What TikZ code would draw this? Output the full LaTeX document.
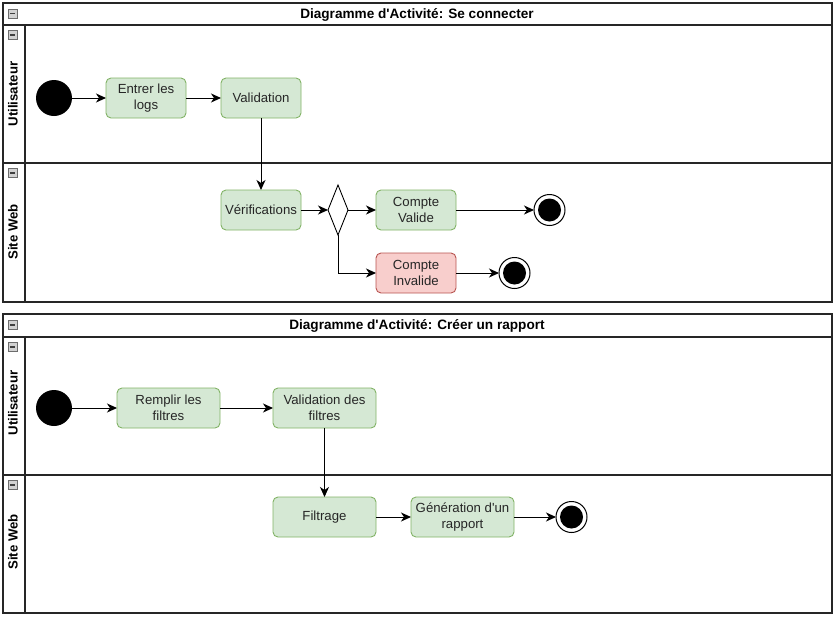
\documentclass[tikz,border=0pt]{standalone}
\usepackage{fontspec}
\setmainfont{Liberation Sans}
\usetikzlibrary{arrows.meta,positioning,shapes.geometric}
\definecolor{ActFill}{HTML}{D5E8D4}
\definecolor{ActLine}{HTML}{82B366}
\definecolor{ErrFill}{HTML}{F8CECC}
\definecolor{ErrLine}{HTML}{B85450}
\definecolor{FoldGrey}{HTML}{9A9A9A}

\begin{document}
\begin{tikzpicture}[x=1pt,y=-1pt,
    every node/.style={outer sep=0pt},
    lane/.style={draw=black!85,line width=1.2pt},
    title/.style={font=\fontsize{13.6}{15}\selectfont\bfseries},
    who/.style={rotate=90,font=\fontsize{13.2}{15}\selectfont\bfseries},
    fold/.style={draw=FoldGrey!70!black,fill=FoldGrey!45,minimum size=9pt,inner sep=0pt,
      path picture={\draw[black!75,line width=1.2pt]
        ([xshift=1.8pt]path picture bounding box.west) -- ([xshift=-1.8pt]path picture bounding box.east);}},
    act/.style={draw=ActLine,fill=ActFill,line width=0.9pt,rounded corners=5pt,
      minimum width=80pt,minimum height=40pt,inner sep=1pt,align=center,
      text=black!85,font=\fontsize{13.2}{16}\selectfont},
    wideact/.style={act,minimum width=103pt},
    fail/.style={act,draw=ErrLine,fill=ErrFill},
    start/.style={circle,fill=black,minimum size=36pt,inner sep=0pt},
    stop/.style={circle,draw=black,line width=1pt,fill=white,minimum size=31pt,inner sep=0pt,
      path picture={\fill[black] (path picture bounding box.center) circle (11.5pt);}},
    choice/.style={diamond,draw=black,line width=0.9pt,fill=white,minimum width=20pt,
      minimum height=50pt,aspect=0.4,inner sep=0pt},
    flow/.style={draw=black,line width=1pt,-{Stealth[length=10pt,width=9pt,inset=3pt]}}
  ]
  \useasboundingbox (0,0) rectangle (834,616);

  % Se connecter
  \draw[lane] (3,3) rectangle (832,302);
  \draw[lane] (3,25) -- (832,25);
  \draw[lane] (3,163) -- (832,163);
  \draw[lane] (25,25) -- (25,302);
  \node[fold] (fold1) at (12.5,13.5) {};
  \node[fold] (fold2) at (12.5,35) {};
  \node[fold] (fold3) at (12.5,173) {};
  \node[title] (titre1) at (417,15) {Diagramme d\textquotesingle Activité: Se connecter};
  \node[who] (user1) at (13,94) {Utilisateur};
  \node[who] (web1) at (13,232) {Site Web};

  \node[start] (init1) at (54,98) {};
  \node[act,right=34pt of init1] (logs) {Entrer les\\logs};
  \node[act,right=35pt of logs] (valid) {Validation};
  \node[act,below=72pt of valid] (verif) {Vérifications};
  \node[choice,right=27pt of verif] (test) {};
  \node[act,right=28pt of test] (ok) {Compte\\Valide};
  \node[fail,below=23pt of ok] (ko) {Compte\\Invalide};
  \node[stop,right=78pt of ok] (endok) {};
  \node[stop,right=43pt of ko] (endko) {};

  \draw[flow] (init1) -- (logs);
  \draw[flow] (logs) -- (valid);
  \draw[flow] (valid) -- (verif);
  \draw[flow] (verif) -- (test);
  \draw[flow] (test) -- (ok);
  \draw[flow] (test.south) |- (ko);
  \draw[flow] (ok) -- (endok);
  \draw[flow] (ko) -- (endko);

  % Creer un rapport
  \draw[lane] (3,314) rectangle (832,613);
  \draw[lane] (3,337) -- (832,337);
  \draw[lane] (3,475) -- (832,475);
  \draw[lane] (25,337) -- (25,613);
  \node[fold] (fold4) at (12.5,325) {};
  \node[fold] (fold5) at (12.5,347) {};
  \node[fold] (fold6) at (12.5,485) {};
  \node[title] (titre2) at (417,326) {Diagramme d\textquotesingle Activité: Créer un rapport};
  \node[who] (user2) at (13,403) {Utilisateur};
  \node[who] (web2) at (13,542) {Site Web};

  \node[start] (init2) at (54,408) {};
  \node[wideact,right=45pt of init2] (remplir) {Remplir les\\filtres};
  \node[wideact,right=53pt of remplir] (validf) {Validation des\\filtres};
  \node[wideact,below=69pt of validf] (filtre) {Filtrage};
  \node[wideact,right=35pt of filtre] (rapport) {Génération d\textquotesingle un\\rapport};
  \node[stop,right=42pt of rapport] (fin) {};

  \draw[flow] (init2) -- (remplir);
  \draw[flow] (remplir) -- (validf);
  \draw[flow] (validf) -- (filtre);
  \draw[flow] (filtre) -- (rapport);
  \draw[flow] (rapport) -- (fin);
\end{tikzpicture}
\end{document}
